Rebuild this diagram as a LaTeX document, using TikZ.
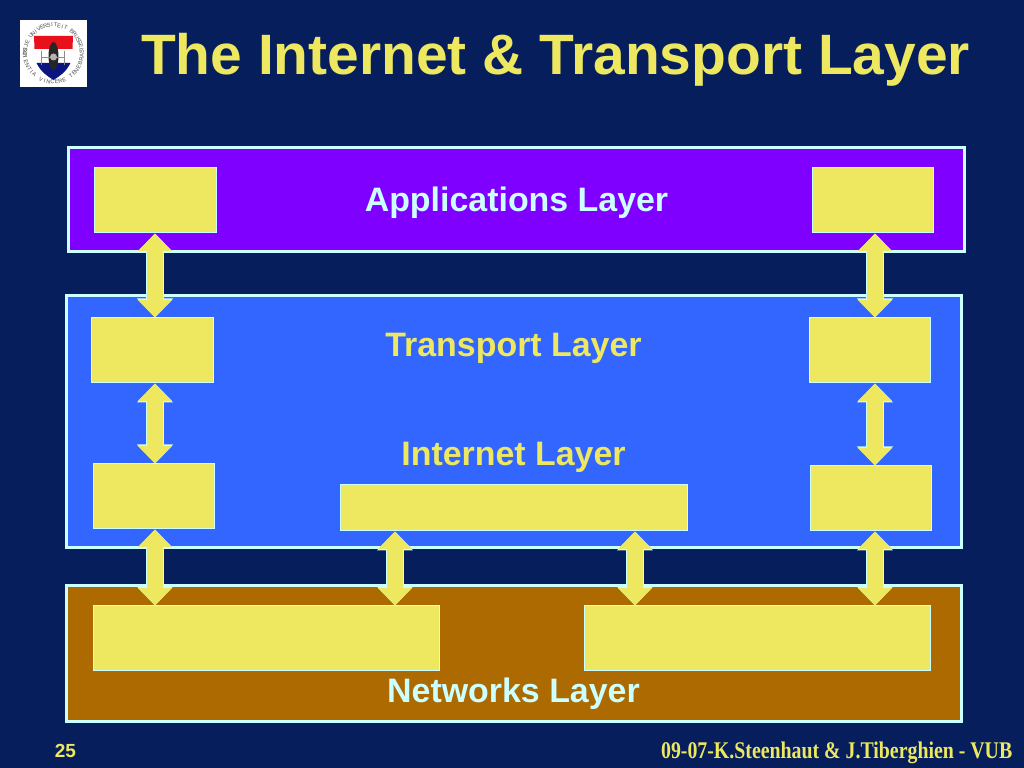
\documentclass[tikz,border=0pt]{standalone}
\usepackage{fontspec}
\setmainfont{Liberation Sans}
\newfontfamily\footfont[FakeStretch=0.83]{Liberation Serif}
\usetikzlibrary{arrows.meta}
\definecolor{slidebg}{HTML}{061F5C}
\definecolor{paleline}{HTML}{CCFFFF}
\definecolor{boxyellow}{HTML}{EDE860}
\definecolor{apppurple}{HTML}{8000FF}
\definecolor{midblue}{HTML}{3366FF}
\definecolor{netbrown}{HTML}{AD6A00}
\definecolor{logored}{HTML}{E8101A}
\definecolor{logoblue}{HTML}{0A1580}
\tikzset{
  layerbox/.style = {draw=paleline, line width=.3mm, minimum width=8.94cm, inner sep=0pt},
  blockbox/.style = {draw=paleline, line width=.1mm, fill=boxyellow, inner sep=0pt, minimum width=1.21cm, minimum height=.65cm},
  updown/.style = {line width=.16cm, draw=boxyellow, {Triangle[length=.175cm,width=.33cm]}-{Triangle[length=.175cm,width=.33cm]},
    preaction={draw=paleline, line width=.18cm, {Triangle[length=.19cm,width=.35cm]}-{Triangle[length=.19cm,width=.35cm]}}},
  layerlabel/.style = {font=\fontsize{9.65}{11}\selectfont\bfseries, inner sep=0pt},
  logoletter/.style = {font=\fontsize{1.6}{2}\selectfont, text=black!70, inner sep=0pt}
}
\begin{document}
\begin{tikzpicture}
	\node[fill=slidebg, minimum width=10.24cm, minimum height=7.68cm, inner sep=0pt] (slide) at (5.12,3.84) {};
	% logo
	\node[fill=white, minimum size=.67cm, inner sep=0pt] (logo) at (.535,7.145) {};
	\foreach \ch [count=\i] in {V,R,I,J,E,{},U,N,I,V,E,R,S,I,T,E,I,T,{},B,R,U,S,S,E,L} {
		\pgfmathsetmacro{\ang}{185-(\i-1)*7.1}
		\node[logoletter, rotate=\ang-90] (tl\i) at ([shift={(\ang:.285)}]logo.center) {\ch};
	}
	\foreach \ch [count=\i] in {S,C,I,E,N,T,I,A,{},V,I,N,C,E,R,E,{},T,E,N,E,B,R,A,S} {
		\pgfmathsetmacro{\ang}{172+(\i-1)*8}
		\node[logoletter, rotate=\ang+90] (bl\i) at ([shift={(\ang:.285)}]logo.center) {\ch};
	}
	\fill[white] (.34,7.32) -- (.73,7.32) -- (.72,7.1) .. controls (.70,6.98) and (.60,6.92) .. (.535,6.88) .. controls (.47,6.92) and (.37,6.98) .. (.35,7.1) -- cycle;
	\fill[logored] (.34,7.32) -- (.73,7.32) -- (.725,7.19) -- (.345,7.19) -- cycle;
	\fill[logoblue] (.365,7.05) -- (.705,7.05) .. controls (.66,6.96) and (.60,6.92) .. (.535,6.88) .. controls (.47,6.92) and (.41,6.96) .. (.365,7.05) -- cycle;
	\fill[black!85] (.535,7.12) ellipse (.05 and .14);
	\draw[black!45, line width=.1mm] (.42,7.17) -- (.42,7.03) (.65,7.17) -- (.65,7.03) (.42,7.1) -- (.65,7.1);
	\fill[white!70!black] (.535,7.11) circle (.035);
	\node[text=boxyellow, font=\fontsize{16.2}{18}\selectfont\bfseries, inner sep=0pt] (title) at (5.555,7.08) {The Internet \& Transport Layer};
	% layers
	\node[layerbox, fill=apppurple, minimum width=8.95cm, minimum height=1.04cm] (app) at (5.165,5.68) {};
	\node[layerbox, fill=midblue, minimum height=2.52cm] (mid) at (5.14,3.46) {};
	\node[layerbox, fill=netbrown, minimum height=1.36cm] (net) at (5.14,1.14) {};
	\node[layerlabel, text=paleline] (applabel) at (5.165,5.65) {Applications Layer};
	\node[layerlabel, text=boxyellow] (tralabel) at (5.135,4.20) {Transport Layer};
	\node[layerlabel, text=boxyellow] (intlabel) at (5.135,3.11) {Internet Layer};
	\node[layerlabel, text=paleline] (netlabel) at (5.135,.74) {Networks Layer};
	% blocks
	\node[blockbox] (appL) at (1.555,5.675) {};
	\node[blockbox] (appR) at (8.725,5.675) {};
	\node[blockbox] (traL) at (1.525,4.175) {};
	\node[blockbox] (traR) at (8.695,4.175) {};
	\node[blockbox] (intL) at (1.535,2.715) {};
	\node[blockbox] (intR) at (8.705,2.695) {};
	\node[blockbox, minimum width=3.47cm, minimum height=.46cm] (intM) at (5.135,2.60) {};
	\node[blockbox, minimum width=3.46cm] (netL) at (2.66,1.295) {};
	\node[blockbox, minimum width=3.46cm] (netR) at (7.57,1.295) {};
	% arrow columns
	\coordinate (lft) at (1.55,0);
	\coordinate (mone) at (3.95,0);
	\coordinate (mtwo) at (6.35,0);
	\coordinate (rgt) at (8.75,0);
	\draw[updown] (lft |- appL.south) -- (lft |- traL.north);
	\draw[updown] (rgt |- appR.south) -- (rgt |- traR.north);
	\draw[updown] (lft |- traL.south) -- (lft |- intL.north);
	\draw[updown] (rgt |- traR.south) -- (rgt |- intR.north);
	\draw[updown] (lft |- intL.south) -- (lft |- netL.north);
	\draw[updown] (mone |- intM.south) -- (mone |- netL.north);
	\draw[updown] (mtwo |- intM.south) -- (mtwo |- netR.north);
	\draw[updown] (rgt |- intR.south) -- (rgt |- netR.north);
	% footer
	\node[text=boxyellow, font=\fontsize{5.4}{7}\selectfont\bfseries, inner sep=0pt] (page) at (.655,.175) {25};
	\node[text=boxyellow, font=\footfont\fontsize{6.8}{8}\selectfont\bfseries, inner sep=0pt, anchor=east] (credit) at (10.13,.155) {09-07-K.Steenhaut \& J.Tiberghien - VUB};
\end{tikzpicture}
\end{document}
